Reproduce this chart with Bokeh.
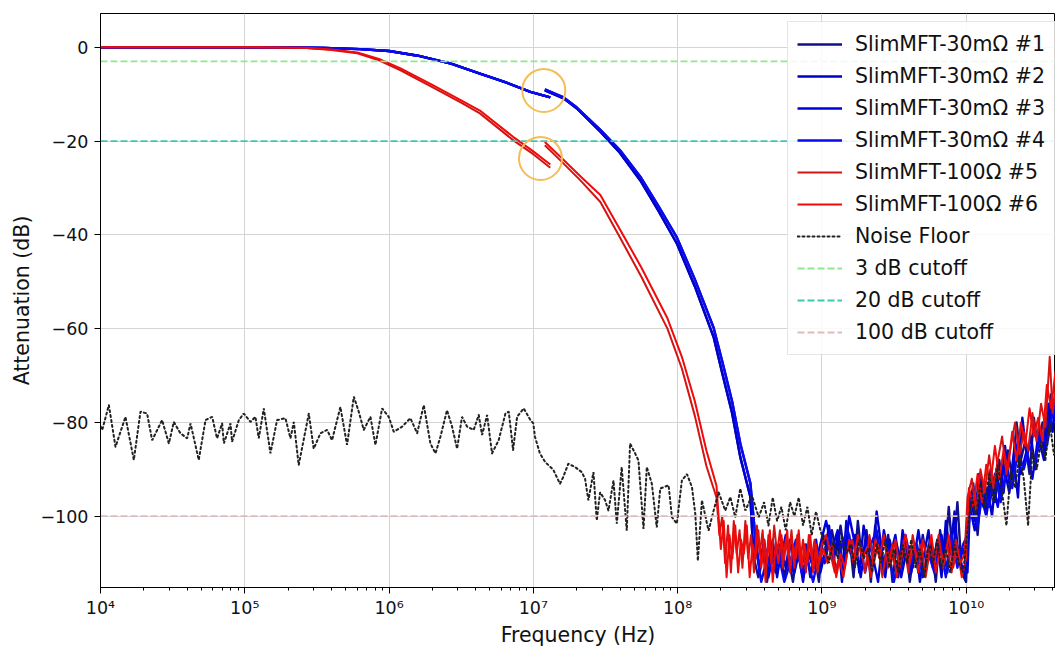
import numpy as np
from bokeh.plotting import figure
from bokeh.models import Range1d, FixedTicker, Legend, LegendItem
from bokeh.embed import file_html
from bokeh.resources import INLINE

# ---------------- data (frequency as log10(Hz), attenuation in dB) ----------------
blue_seg1_logf = [4.0, 4.5, 5.0, 5.3, 5.55, 5.8, 6.0, 6.2, 6.43, 6.63, 6.8, 6.98, 7.118]
blue_seg1_db = [0.0, 0.0, 0.0, -0.05, -0.15, -0.4, -0.8, -1.8, -3.5, -5.6, -7.4, -9.5, -10.7]

blue_seg2a_logf = [7.08, 7.21, 7.3, 7.465, 7.6, 7.742, 7.87, 7.996, 8.12, 8.25, 8.31, 8.378, 8.435, 8.505, 8.527]
blue_seg2a_db = [-9.2, -10.9, -13.0, -18.0, -22.5, -28.4, -35.0, -41.9, -51.0, -61.8, -69.5, -78.0, -87.4, -95.9, -109.0]
blue_seg2b_logf = [7.08, 7.21, 7.3, 7.465, 7.6, 7.742, 7.87, 7.996, 8.12, 8.25, 8.31, 8.378, 8.435, 8.505, 8.55]
blue_seg2b_db = [-9.0, -10.7, -12.8, -17.6, -21.9, -27.6, -34.0, -40.6, -49.5, -59.8, -67.0, -75.5, -84.5, -93.0, -108.0]

blue1_tail_logf = [8.53, 8.56, 8.59, 8.62, 8.65, 8.68, 8.71, 8.74, 8.77, 8.80, 8.83, 8.86, 8.89, 8.92, 8.95, 8.98,
                   9.01, 9.04, 9.07, 9.10, 9.13, 9.16, 9.19, 9.22, 9.25, 9.28, 9.31, 9.34, 9.37, 9.40, 9.43, 9.46,
                   9.49, 9.52, 9.55, 9.58, 9.61, 9.64, 9.67, 9.70, 9.73, 9.76, 9.79, 9.82, 9.85, 9.88, 9.91, 9.94,
                   9.97, 10.0, 10.02, 10.05, 10.08, 10.11, 10.14, 10.17, 10.20, 10.23, 10.26, 10.29, 10.32, 10.35,
                   10.38, 10.41, 10.44, 10.47, 10.50, 10.53, 10.56, 10.59, 10.62, 10.64]
blue1_tail_db = [-109, -113, -107, -114, -108, -112, -106, -113, -109, -114, -107, -111, -106, -113, -108, -114,
                 -104, -107, -103, -108, -102, -109, -104, -113, -101, -110, -103, -114, -102, -108, -112, -104,
                 -114, -106, -111, -105, -114, -107, -112, -104, -110, -106, -114, -103, -110, -98, -109, -97,
                 -112, -114, -100, -93, -104, -92, -99, -90, -97, -88, -95, -86, -92, -80,
                 -88, -84, -91, -79, -86, -80, -84, -74, -77, -72]

blue2_tail_logf = [8.54, 8.57, 8.60, 8.63, 8.66, 8.69, 8.72, 8.75, 8.78, 8.81, 8.84, 8.87, 8.90, 8.93, 8.96, 8.99,
                   9.02, 9.05, 9.08, 9.11, 9.14, 9.17, 9.20, 9.23, 9.26, 9.29, 9.32, 9.35, 9.38, 9.41, 9.44, 9.47,
                   9.50, 9.53, 9.56, 9.59, 9.62, 9.65, 9.68, 9.71, 9.74, 9.77, 9.80, 9.83, 9.86, 9.89, 9.92, 9.95,
                   9.98, 10.01, 10.03, 10.06, 10.09, 10.12, 10.15, 10.18, 10.21, 10.24, 10.27, 10.30, 10.33, 10.36,
                   10.39, 10.42, 10.45, 10.48, 10.51, 10.54, 10.57, 10.60, 10.63]
blue2_tail_db = [-104, -112, -106, -110, -105, -113, -107, -111, -105, -112, -108, -114, -107, -110, -105, -112,
                 -108, -102, -110, -104, -114, -101, -108, -104, -112, -102, -107, -111, -99, -106, -113, -105,
                 -109, -113, -103, -108, -112, -106, -114, -108, -103, -111, -105, -113, -101, -108, -99, -110,
                 -107, -112, -95, -101, -91, -98, -94, -100, -90, -96, -85, -93, -88, -96,
                 -79, -87, -83, -90, -81, -86, -76, -82, -73]

blue3_tail_logf = [8.57, 8.60, 8.63, 8.67, 8.71, 8.75, 8.79, 8.83, 8.87, 8.91, 8.95, 8.99, 9.03, 9.07, 9.11, 9.15,
                   9.19, 9.23, 9.27, 9.31, 9.35, 9.39, 9.43, 9.47, 9.51, 9.55, 9.59, 9.63, 9.67, 9.71, 9.75, 9.79,
                   9.83, 9.87, 9.91, 9.95, 9.99, 10.02, 10.06, 10.10, 10.14, 10.18, 10.22, 10.26, 10.30, 10.34,
                   10.38, 10.42, 10.46, 10.50, 10.54, 10.58, 10.62]
blue3_tail_db = [-111, -105, -113, -107, -110, -104, -112, -106, -113, -108, -111, -106, -101, -107, -103, -111,
                 -100, -106, -113, -104, -108, -114, -103, -109, -104, -113, -107, -111, -103, -112, -105, -109,
                 -104, -112, -102, -108, -113, -97, -103, -95, -100, -92, -98, -89, -95, -84,
                 -91, -86, -92, -83, -88, -79, -75]

blue4_tail_logf = [8.58, 8.62, 8.66, 8.70, 8.74, 8.78, 8.82, 8.86, 8.90, 8.94, 8.98, 9.02, 9.06, 9.10, 9.14, 9.18,
                   9.22, 9.26, 9.30, 9.34, 9.38, 9.42, 9.46, 9.50, 9.54, 9.58, 9.62, 9.66, 9.70, 9.74, 9.78, 9.82,
                   9.86, 9.90, 9.94, 9.98, 10.01, 10.04, 10.08, 10.12, 10.16, 10.20, 10.24, 10.28, 10.32, 10.36,
                   10.40, 10.44, 10.48, 10.52, 10.56, 10.60, 10.63]
blue4_tail_db = [-114, -109, -112, -108, -114, -110, -105, -112, -109, -114, -108, -110, -104, -112, -106, -103,
                 -109, -105, -112, -106, -103, -110, -107, -114, -108, -104, -110, -106, -113, -108, -112, -106,
                 -113, -104, -111, -106, -104, -96, -102, -94, -98, -91, -97, -90, -94, -86,
                 -90, -85, -88, -82, -85, -78, -74]

red_seg1_logf = [4.0, 5.0, 5.2, 5.43, 5.6, 5.78, 5.93, 6.08, 6.3, 6.5, 6.63, 6.86, 7.0, 7.118]
red5_seg1_db = [0.0, 0.0, -0.05, -0.15, -0.6, -1.3, -2.8, -4.9, -8.5, -11.8, -14.1, -19.8, -22.8, -25.7]
red6_seg1_db = [0.0, 0.0, -0.05, -0.12, -0.5, -1.1, -2.5, -4.5, -8.0, -11.3, -13.5, -19.1, -22.2, -25.0]

red_seg2_logf = [7.08, 7.2, 7.33, 7.465, 7.6, 7.75, 7.93, 8.03, 8.12, 8.2, 8.27]
red5_seg2_db = [-20.9, -24.5, -28.5, -33.0, -40.5, -49.0, -60.0, -68.5, -78.6, -89.3, -96.0]
red6_seg2_db = [-20.2, -23.7, -27.6, -31.5, -38.8, -47.0, -57.8, -66.0, -75.5, -86.0, -93.5]

red5_tail_logf = [8.29, 8.31, 8.33, 8.35, 8.37, 8.39, 8.41, 8.43, 8.45, 8.47, 8.49, 8.51, 8.53, 8.55, 8.57, 8.59,
                  8.61, 8.63, 8.65, 8.67, 8.69, 8.71, 8.73, 8.75, 8.77, 8.79, 8.81, 8.83, 8.85, 8.87, 8.89, 8.91,
                  8.93, 8.95, 8.97, 9.00, 9.03, 9.06, 9.09, 9.12, 9.15, 9.18, 9.21, 9.24, 9.27, 9.30, 9.33, 9.36,
                  9.39, 9.42, 9.45, 9.48, 9.51, 9.54, 9.57, 9.60, 9.63, 9.66, 9.69, 9.72, 9.75, 9.78, 9.81, 9.84,
                  9.87, 9.90, 9.93, 9.96, 9.99, 10.01, 10.04, 10.07, 10.10, 10.13, 10.16, 10.19, 10.22, 10.25,
                  10.28, 10.31, 10.34, 10.37, 10.40, 10.43, 10.46, 10.49, 10.52, 10.55, 10.58, 10.60, 10.63]
red5_tail_db = [-104, -100, -110, -102, -112, -101, -108, -103, -111, -101, -109, -104, -112, -102, -108, -103,
                -114, -104, -110, -102, -108, -103, -111, -105, -109, -103, -111, -104, -110, -105, -112, -104,
                -109, -105, -112, -106, -104, -108, -112, -109, -113, -107, -105, -109, -106, -112, -104, -110,
                -106, -113, -107, -110, -105, -111, -106, -112, -104, -109, -106, -113, -107, -110, -104, -111,
                -106, -112, -105, -110, -108, -96, -92, -99, -90, -95, -87, -94, -88, -83,
                -91, -85, -80, -87, -82, -86, -78, -84, -76, -81, -66, -78, -70]

red6_tail_logf = [8.28, 8.30, 8.32, 8.34, 8.36, 8.38, 8.40, 8.42, 8.44, 8.46, 8.48, 8.50, 8.52, 8.54, 8.56, 8.58,
                  8.60, 8.62, 8.64, 8.66, 8.68, 8.70, 8.72, 8.74, 8.76, 8.78, 8.80, 8.82, 8.84, 8.86, 8.88, 8.90,
                  8.92, 8.94, 8.96, 8.98, 9.01, 9.04, 9.07, 9.10, 9.13, 9.16, 9.19, 9.22, 9.25, 9.28, 9.31, 9.34,
                  9.37, 9.40, 9.43, 9.46, 9.49, 9.52, 9.55, 9.58, 9.61, 9.64, 9.67, 9.70, 9.73, 9.76, 9.79, 9.82,
                  9.85, 9.88, 9.91, 9.94, 9.97, 10.00, 10.02, 10.05, 10.08, 10.11, 10.14, 10.17, 10.20, 10.23,
                  10.26, 10.29, 10.32, 10.35, 10.38, 10.41, 10.44, 10.47, 10.50, 10.53, 10.56, 10.59, 10.62]
red6_tail_db = [-98, -107, -101, -113, -104, -109, -102, -112, -105, -108, -102, -113, -106, -109, -103, -111,
                -105, -110, -103, -114, -106, -110, -104, -109, -103, -112, -106, -109, -103, -111, -106, -110,
                -104, -112, -106, -110, -107, -110, -106, -113, -108, -111, -105, -110, -104, -109, -107, -113,
                -105, -109, -104, -111, -106, -113, -108, -104, -110, -106, -112, -105, -109, -104, -112, -107,
                -110, -104, -111, -107, -113, -109, -94, -98, -91, -97, -89, -93, -85, -92,
                -86, -90, -82, -88, -80, -85, -77, -83, -79, -84, -72, -77, -69]

noise_logf = [4.000, 4.012, 4.058, 4.104, 4.173, 4.231, 4.277, 4.323, 4.358, 4.427, 4.474, 4.508, 4.554, 4.601,
              4.624, 4.681, 4.728, 4.774, 4.808, 4.843, 4.855, 4.901, 4.912, 4.959, 4.993, 5.040, 5.074, 5.097,
              5.132, 5.178, 5.224, 5.282, 5.317, 5.340, 5.374, 5.444, 5.478, 5.525, 5.571, 5.605, 5.663, 5.709,
              5.756, 5.790, 5.825, 5.871, 5.906, 5.952, 5.998, 6.033, 6.091, 6.148, 6.195, 6.241, 6.287, 6.322,
              6.356, 6.402, 6.437, 6.472, 6.506, 6.541, 6.587, 6.622, 6.645, 6.680, 6.714, 6.760, 6.807, 6.830,
              6.860, 6.888, 6.934, 6.980,
              7.000, 7.012, 7.046, 7.081, 7.139, 7.185, 7.208, 7.243, 7.289, 7.336, 7.359, 7.382, 7.417, 7.440,
              7.463, 7.498, 7.521, 7.556, 7.579, 7.613, 7.648, 7.671, 7.706, 7.729, 7.764, 7.787, 7.822, 7.856,
              7.880, 7.938, 7.961, 7.995, 8.030, 8.065, 8.100, 8.123, 8.141, 8.169, 8.215, 8.250, 8.285, 8.331,
              8.366, 8.400, 8.435, 8.470, 8.516, 8.563,
              8.600, 8.630, 8.660, 8.690, 8.720, 8.750, 8.780, 8.810, 8.840, 8.870, 8.900, 8.930, 8.960, 8.990,
              9.020, 9.050, 9.080, 9.110, 9.140, 9.170, 9.200, 9.230, 9.260, 9.290, 9.320, 9.350, 9.380, 9.410,
              9.440, 9.470, 9.500, 9.530, 9.560, 9.590, 9.620, 9.650, 9.680, 9.710, 9.740, 9.770, 9.800, 9.830,
              9.860, 9.890, 9.920, 9.950, 9.980, 10.010, 10.040, 10.070, 10.100, 10.130, 10.160, 10.190, 10.220,
              10.250, 10.280, 10.310, 10.340, 10.370, 10.400, 10.430, 10.460, 10.490, 10.520, 10.550, 10.580,
              10.610, 10.630]
noise_db = [-80.8, -81.6, -76.3, -85.2, -78.8, -88.0, -77.7, -78.1, -83.8, -79.5, -84.5, -79.9, -82.3, -83.4,
            -80.2, -88.0, -79.5, -78.8, -83.4, -80.2, -84.5, -80.2, -84.1, -79.5, -78.1, -79.9, -78.8, -83.4,
            -77.0, -86.6, -79.5, -79.1, -83.4, -79.9, -89.1, -78.1, -85.6, -82.3, -81.6, -83.8, -76.7, -84.8,
            -74.5, -77.7, -81.6, -78.8, -84.8, -77.0, -78.8, -82.0, -80.9, -79.1, -82.3, -76.3, -84.5, -86.6,
            -83.1, -77.4, -80.9, -85.6, -78.8, -80.9, -81.6, -78.4, -82.7, -78.4, -86.6, -83.8, -78.1, -77.7,
            -85.9, -78.8, -77.0, -79.5,
            -80.2, -83.1, -86.6, -88.4, -90.1, -93.1, -91.6, -88.8, -89.5, -90.6, -92.0, -96.6, -90.6, -100.9,
            -94.9, -96.6, -98.8, -92.4, -101.6, -89.5, -103.1, -84.5, -86.6, -88.1, -102.7, -89.5, -93.1, -102.4,
            -94.1, -93.4, -100.2, -101.6, -92.4, -91.0, -93.8, -99.5, -109.5, -96.6, -103.1, -98.8, -94.9, -98.8,
            -95.9, -100.2, -94.1, -98.8, -95.6, -100.2,
            -97, -102, -96, -101, -98, -103, -97, -100, -96, -102, -98, -104, -99, -103,
            -106, -110, -105, -109, -104, -108, -106, -111, -105, -109, -107, -112, -106, -110,
            -105, -111, -107, -112, -106, -110, -105, -111, -107, -113, -106, -110, -105, -111,
            -107, -112, -106, -110, -112, -103, -96, -100, -93, -98, -91, -97, -89,
            -95, -102, -90, -94, -87, -92, -102, -86, -90, -84, -88, -80,
            -87, -84]

cutoff_levels = [-3, -20, -100]
cutoff_labels = ["3 dB cutoff", "20 dB cutoff", "100 dB cutoff"]
cutoff_colors = ["#90e890", "#3cc8b2", "#dcbcbc"]

annotation_logf = [7.073, 7.050]
annotation_db = [-9.2, -23.7]

x_tick_exponents = [4, 5, 6, 7, 8, 9, 10]
x_tick_labels = ["10⁴", "10⁵", "10⁶", "10⁷", "10⁸", "10⁹", "10¹⁰"]
y_ticks = [0, -20, -40, -60, -80, -100]
y_tick_labels = ["0", "−20", "−40", "−60", "−80", "−100"]

X_MIN_LOG, X_MAX_LOG = 4.0, 10.62
Y_MIN, Y_MAX = -115.2, 7.2

FONT = "DejaVu Sans"


def curve(seg1, seg2, tail):
    lx = list(seg1[0]) + [np.nan] + list(seg2[0]) + list(tail[0])
    ly = list(seg1[1]) + [np.nan] + list(seg2[1]) + list(tail[1])
    return np.power(10.0, np.array(lx, dtype=float)), np.array(ly, dtype=float)


p = figure(width=1055, height=650, output_backend="svg", toolbar_location=None,
           x_axis_type="log",
           x_range=Range1d(10 ** X_MIN_LOG, 10 ** X_MAX_LOG),
           y_range=Range1d(Y_MIN, Y_MAX),
           min_border_left=100, min_border_right=0, min_border_top=13, min_border_bottom=63)
p.background_fill_color = "white"
p.border_fill_color = "white"
p.outline_line_color = "black"
p.outline_line_width = 1

items = []

blue_specs = [
    ("SlimMFT-30mΩ #1", "#10108a", (blue_seg2a_logf, blue_seg2a_db), (blue1_tail_logf, blue1_tail_db)),
    ("SlimMFT-30mΩ #2", "#0000cc", (blue_seg2a_logf, blue_seg2a_db), (blue2_tail_logf, blue2_tail_db)),
    ("SlimMFT-30mΩ #3", "#0000dd", (blue_seg2b_logf, blue_seg2b_db), (blue3_tail_logf, blue3_tail_db)),
    ("SlimMFT-30mΩ #4", "#0a0aee", (blue_seg2b_logf, blue_seg2b_db), (blue4_tail_logf, blue4_tail_db)),
]
for label, color, seg2, tail in blue_specs:
    x, y = curve((blue_seg1_logf, blue_seg1_db), seg2, tail)
    r = p.line(x, y, line_color=color, line_width=2.4, line_join="round")
    items.append(LegendItem(label=label, renderers=[r]))

red_specs = [
    ("SlimMFT-100Ω #5", "#d41414", red5_seg1_db, red5_seg2_db, (red5_tail_logf, red5_tail_db)),
    ("SlimMFT-100Ω #6", "#f00a0a", red6_seg1_db, red6_seg2_db, (red6_tail_logf, red6_tail_db)),
]
for label, color, s1, s2, tail in red_specs:
    x, y = curve((red_seg1_logf, s1), (red_seg2_logf, s2), tail)
    r = p.line(x, y, line_color=color, line_width=2, line_join="round")
    items.append(LegendItem(label=label, renderers=[r]))

r = p.line(np.power(10.0, np.array(noise_logf)), np.array(noise_db, dtype=float),
           line_color="#222222", line_width=2, line_dash="2 3", line_cap="round")
items.append(LegendItem(label="Noise Floor", renderers=[r]))

for lvl, lab, col in zip(cutoff_levels, cutoff_labels, cutoff_colors):
    r = p.line([10 ** X_MIN_LOG, 10 ** X_MAX_LOG], [lvl, lvl], line_color=col,
               line_width=1.8, line_dash="7 3")
    items.append(LegendItem(label=lab, renderers=[r]))

p.scatter(np.power(10.0, np.array(annotation_logf)), annotation_db, marker="circle", size=43,
          fill_color=None, line_color="#f5bd55", line_width=2)

# axes
p.xaxis.ticker = FixedTicker(ticks=[10 ** e for e in x_tick_exponents],
                             minor_ticks=[m * 10 ** e for e in x_tick_exponents for m in range(2, 10)])
p.xaxis.major_label_overrides = {10 ** e: lab for e, lab in zip(x_tick_exponents, x_tick_labels)}
p.yaxis.ticker = FixedTicker(ticks=y_ticks, minor_ticks=[])
p.yaxis.major_label_overrides = {t: lab for t, lab in zip(y_ticks, y_tick_labels)}

for ax in (p.xaxis[0], p.yaxis[0]):
    ax.axis_line_color = "black"
    ax.axis_line_width = 1
    ax.major_tick_line_color = "black"
    ax.minor_tick_line_color = "black"
    ax.major_tick_out = 6
    ax.major_tick_in = 0
    ax.minor_tick_out = 3
    ax.minor_tick_in = 0
    ax.major_label_text_font = FONT
    ax.major_label_text_font_size = "17.5px"
    ax.major_label_text_color = "#111111"
    ax.axis_label_text_font = FONT
    ax.axis_label_text_font_size = "20.5px"
    ax.axis_label_text_font_style = "normal"
    ax.axis_label_text_color = "#111111"

p.xaxis.axis_label = "Frequency (Hz)"
p.yaxis.axis_label = "Attenuation (dB)"
p.xaxis.major_label_standoff = 4
p.yaxis.major_label_standoff = 6
p.xaxis.axis_label_standoff = 2
p.yaxis.axis_label_standoff = 3

p.xgrid.grid_line_color = "#d4d4d4"
p.ygrid.grid_line_color = "#d4d4d4"
p.xgrid.grid_line_width = 1
p.ygrid.grid_line_width = 1

legend = Legend(items=items, location=(687, 232))
legend.label_text_font = FONT
legend.label_text_font_size = "20.5px"
legend.label_text_color = "#111111"
legend.glyph_width = 45
legend.glyph_height = 26
legend.label_height = 26
legend.label_standoff = 13
legend.spacing = 6
legend.padding = 9
legend.margin = 0
legend.background_fill_color = "white"
legend.background_fill_alpha = 0.85
legend.border_line_color = "#cccccc"
legend.border_line_width = 1
p.add_layout(legend)

open("out.html", "w").write(file_html(p, INLINE))
